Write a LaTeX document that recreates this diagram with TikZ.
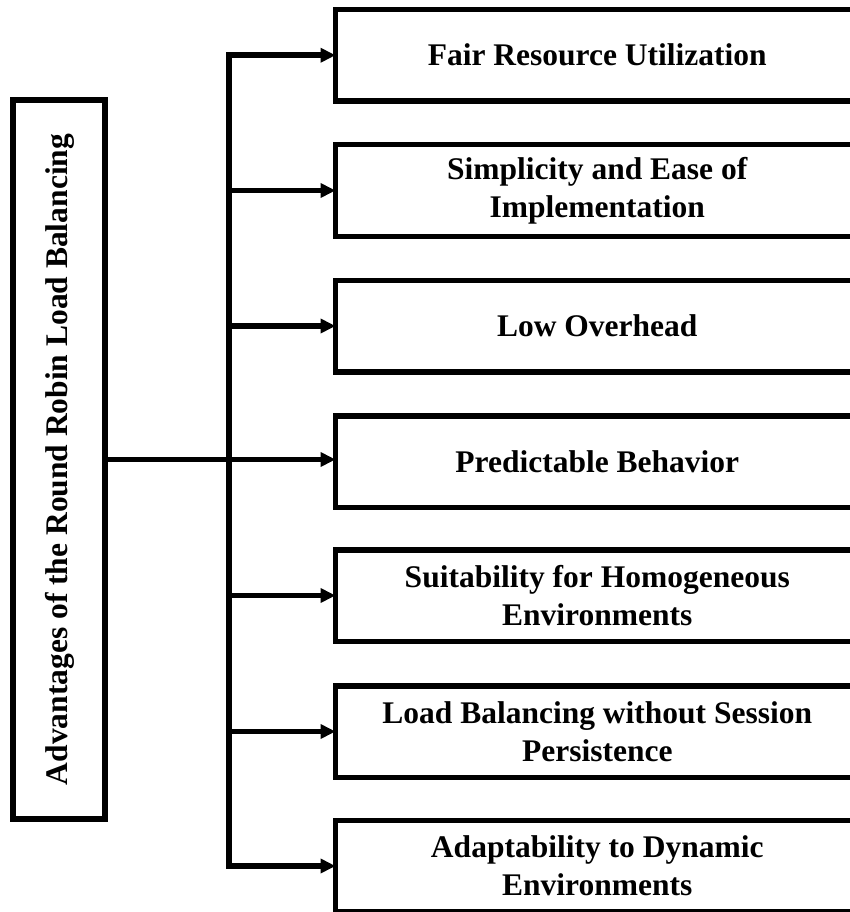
\documentclass[tikz,border=0pt]{standalone}
\usepackage{fontspec}
\setmainfont{Liberation Serif}
\usetikzlibrary{arrows.meta}

\begin{document}
\begin{tikzpicture}[x=1pt, y=-1pt,
    every node/.style={inner sep=0pt, outer sep=0pt},
    boxline/.style={draw=black, line width=5.5pt},
    label/.style={font=\fontsize{31.5}{38}\selectfont\bfseries, align=center},
    itembox/.style={boxline, label, minimum width=523.5pt, minimum height=91.5pt},
    rootbox/.style={boxline, minimum width=92pt, minimum height=719pt},
    link/.style={line width=5.5pt},
    arrowlink/.style={link, -{Triangle[length=15pt, width=14pt]}},
  ]
  % page area; item boxes run past the right edge
  \clip (0,0) rectangle (850,912);

  % root box with rotated title
  \node[rootbox] (root) at (59,459.5) {};
  \node[label, rotate=90] (title) at (60,459.5) {Advantages of the Round Robin Load Balancing};

  % item boxes
  \node[itembox] (b1) at (597.25,55.25)  {Fair Resource Utilization};
  \node[itembox] (b2) at (597.25,190.5)  {Simplicity and Ease of\\Implementation};
  \node[itembox] (b3) at (597.25,326)    {Low Overhead};
  \node[itembox] (b4) at (597.25,461.5)  {Predictable Behavior};
  \node[itembox] (b5) at (597.25,595.5)  {Suitability for Homogeneous\\Environments};
  \node[itembox] (b6) at (597.25,731.5)  {Load Balancing without Session\\Persistence};
  \node[itembox] (b7) at (597.25,866)    {Adaptability to Dynamic\\Environments};

  % vertical bus
  \coordinate (bus) at (229,0);
  \draw[link, line cap=rect] (bus |- b1.west) -- (bus |- b7.west);

  % root to bus and on to the middle box
  \draw[arrowlink] (root.east) -- (root.east -| b4.west);

  % bus to each item box
  \foreach \b in {b1,b2,b3,b5,b6,b7} {
    \draw[arrowlink] (bus |- \b.west) -- (\b.west);
  }
\end{tikzpicture}
\end{document}
